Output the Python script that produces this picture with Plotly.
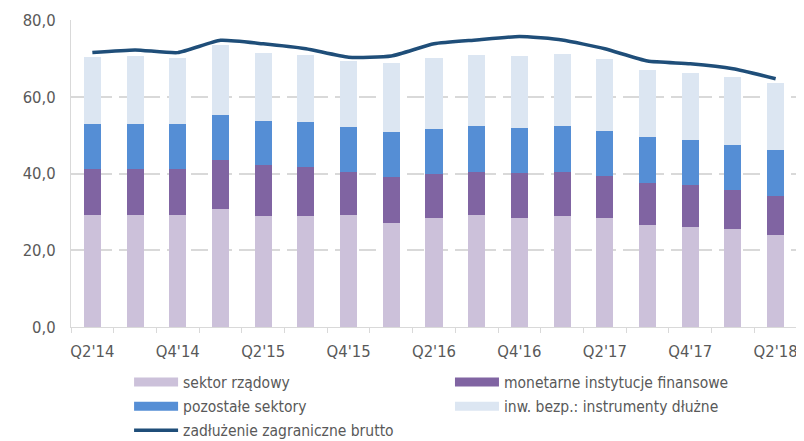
import plotly.graph_objects as go

quarters = ["Q2'14", "Q3'14", "Q4'14", "Q1'15", "Q2'15", "Q3'15", "Q4'15", "Q1'16",
            "Q2'16", "Q3'16", "Q4'16", "Q1'17", "Q2'17", "Q3'17", "Q4'17", "Q1'18", "Q2'18"]
tick_labels = [q if i % 2 == 0 else "" for i, q in enumerate(quarters)]

sektor_rzadowy = [29.1, 29.1, 29.1, 30.7, 28.8, 28.8, 29.1, 27.2, 28.3, 29.1, 28.3, 28.8, 28.3, 26.6, 26.1, 25.6, 24.0]
mif = [12.0, 12.2, 12.2, 12.8, 13.4, 12.8, 11.4, 12.0, 11.5, 11.4, 11.8, 11.7, 11.1, 10.9, 10.8, 10.1, 10.2]
pozostale = [11.9, 11.7, 11.5, 11.7, 11.4, 11.8, 11.6, 11.5, 11.7, 11.8, 11.7, 12.0, 11.8, 11.9, 11.9, 11.8, 11.9]
inw_bezp = [17.3, 17.7, 17.3, 18.2, 17.9, 17.6, 17.2, 18.1, 18.6, 18.6, 18.9, 18.7, 18.6, 17.7, 17.5, 17.6, 17.4]
zadluzenie = [71.5, 72.2, 71.5, 74.7, 73.8, 72.5, 70.3, 70.6, 73.8, 74.8, 75.7, 74.8, 72.5, 69.3, 68.6, 67.3, 64.7]

font_family = "DejaVu Sans Condensed, Roboto, sans-serif"
text_color = "#595959"
fs = 16.5
legend_fs = 15.5

fig = go.Figure()
bar_specs = [
    ("sektor rządowy", sektor_rzadowy, "#CCC1DA", "legend", "g1"),
    ("monetarne instytucje finansowe", mif, "#8064A2", "legend2", "g2"),
    ("pozostałe sektory", pozostale, "#558ED5", "legend", "g3"),
    ("inw. bezp.: instrumenty dłużne", inw_bezp, "#DCE6F2", "legend2", "g4"),
]
for name, vals, color, leg, grp in bar_specs:
    fig.add_trace(go.Bar(x=quarters, y=vals, name=name, marker=dict(color=color, line=dict(width=0)),
                         legend=leg, legendgroup=grp, showlegend=False))

# legend-only entries giving the wide, flat colour swatches of the bar series
for name, vals, color, leg, grp in bar_specs:
    fig.add_trace(go.Scatter(x=[None], y=[None], name=name, mode="lines",
                             line=dict(color=color, width=9), legend=leg, legendgroup=grp,
                             hoverinfo="skip"))

fig.add_trace(go.Scatter(x=quarters, y=zadluzenie, name="zadłużenie zagraniczne brutto", mode="lines",
                         line=dict(color="#1F4E79", width=3.5, shape="spline", smoothing=0.5),
                         legend="legend", legendgroup="g5"))

legend_common = dict(orientation="v", yanchor="top", y=0.1744, yref="container", xanchor="left",
                     font=dict(family=font_family, size=legend_fs, color=text_color),
                     tracegroupgap=1, bgcolor="rgba(0,0,0,0)", itemwidth=44,
                     traceorder="grouped")

# the page adds an 8px body margin, so the figure is 8px smaller than the window
fig.update_layout(
    width=796, height=433,
    margin=dict(l=63, r=7, t=12, b=114, autoexpand=False),
    plot_bgcolor="white", paper_bgcolor="white",
    barmode="stack", bargap=0.6,
    separators=", ",
    font=dict(family=font_family, size=fs, color=text_color),
    showlegend=True,
    legend=dict(x=0.080, **legend_common),
    legend2=dict(x=0.522, **legend_common),
    xaxis=dict(type="category", tickmode="array", tickvals=quarters, ticktext=tick_labels,
               tickson="boundaries", ticks="outside", ticklen=5, tickcolor="#D9D9D9", tickangle=0,
               showline=True, linecolor="#D9D9D9", linewidth=1, showgrid=False,
               ticklabelstandoff=9,
               tickfont=dict(family=font_family, size=fs, color=text_color)),
    yaxis=dict(range=[0, 80], dtick=20, tickformat=".1f", showgrid=True, gridcolor="#D9D9D9",
               griddash="17px,7px", gridwidth=1.5, zeroline=False, showline=True, linecolor="#D9D9D9",
               ticks="", ticklabelstandoff=11,
               tickfont=dict(family=font_family, size=fs, color=text_color)),
)

fig.write_html("out.html")
